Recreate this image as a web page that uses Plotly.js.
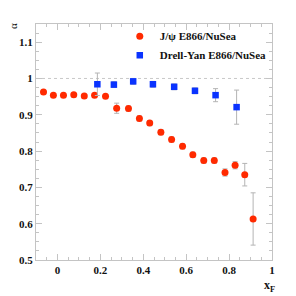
<!DOCTYPE html>
<html><head><meta charset="utf-8">
<script src="https://cdn.plot.ly/plotly-3.0.1.min.js"></script>
<style>html,body{margin:0;padding:0;background:#fff}#c{width:296px;height:296px}</style>
</head><body><div id="c"></div>
<script>
// J/psi E866/NuSea
const jpsiX = [-0.065,-0.019,0.028,0.076,0.125,0.173,0.224,0.276,0.331,0.382,0.430,0.482,0.532,0.583,0.631,0.682,0.731,0.781,0.828,0.873,0.912];
const jpsiA = [0.963,0.954,0.954,0.955,0.952,0.954,0.951,0.918,0.917,0.890,0.877,0.852,0.832,0.813,0.790,0.774,0.774,0.741,0.761,0.735,0.613];
const jpsiErr = [0.005,0.005,0.005,0.005,0.005,0.005,0.005,0.014,0.007,0.007,0.007,0.007,0.007,0.007,0.007,0.007,0.007,0.010,0.010,0.031,0.072];
// Drell-Yan E866/NuSea
const dyX = [0.186,0.263,0.353,0.445,0.544,0.641,0.737,0.835];
const dyA = [0.984,0.983,0.992,0.984,0.977,0.966,0.954,0.921];
const dyErr = [0.031,0.008,0.008,0.008,0.008,0.008,0.018,0.047];
const seriesNames = ["J/\u03c8 E866/NuSea","Drell-Yan E866/NuSea"];
const xTicks = [0,0.2,0.4,0.6,0.8,1];
const yTicks = [0.5,0.6,0.7,0.8,0.9,1,1.1];
const refLine = 1;

const F = 'Liberation Serif, Times New Roman, serif';
const errStyle = {type:'data', visible:true, color:'#b4b4b4', thickness:1, width:2.5};
const traces = [
  {x:jpsiX, y:jpsiA, name:seriesNames[0], mode:'markers', type:'scatter',
   marker:{symbol:'circle', size:7, color:'#ff2a00'},
   error_y:Object.assign({array:jpsiErr}, errStyle)},
  {x:dyX, y:dyA, name:seriesNames[1], mode:'markers', type:'scatter',
   marker:{symbol:'square', size:6.5, color:'#0a33ff'},
   error_y:Object.assign({array:dyErr}, errStyle)}
];
const axisCommon = {
  showgrid:false, zeroline:false, showline:true, linecolor:'#c4c4c4', linewidth:1,
  mirror:'allticks', ticks:'inside', ticklen:6, tickcolor:'#c4c4c4', tickwidth:1,
  minor:{ticks:'inside', ticklen:3, tickcolor:'#c4c4c4', tickwidth:1}
};
const tf = {family:F, size:11, color:'#111', weight:'bold'};
const layout = {
  width:296, height:296, paper_bgcolor:'#fff', plot_bgcolor:'#fff',
  margin:{l:36, r:24, t:24, b:36},
  showlegend:true,
  legend:{x:0.355, y:1.01, xanchor:'left', yanchor:'top', bgcolor:'rgba(0,0,0,0)',
          font:{family:F, size:11, color:'#111', weight:'bold'}, itemwidth:30, tracegroupgap:0},
  xaxis:Object.assign({}, axisCommon, {range:[-0.1,1.0], tickvals:xTicks, ticktext:xTicks.map(String),
          minor:Object.assign({}, axisCommon.minor, {dtick:0.05, tick0:0}), tickfont:tf}),
  yaxis:Object.assign({}, axisCommon, {range:[0.5,1.15], tickvals:yTicks, ticktext:yTicks.map(String),
          minor:Object.assign({}, axisCommon.minor, {dtick:0.025, tick0:0.5}), tickfont:tf}),
  shapes:[{type:'line', xref:'paper', x0:0, x1:1, yref:'y', y0:refLine, y1:refLine,
           line:{color:'#c8c8c8', width:1, dash:'dot'}, layer:'below'}],
  annotations:[
    {text:'\u03b1', xref:'paper', yref:'paper', x:-0.095, y:0.99, xanchor:'center', yanchor:'middle',
     showarrow:false, textangle:-90, font:{family:F, size:11, color:'#111'}},
    {text:'<b>x<sub>F</sub></b>', xref:'paper', yref:'paper', x:0.99, y:-0.11, xanchor:'center', yanchor:'middle',
     showarrow:false, font:{family:F, size:12, color:'#111'}}
  ]
};
Plotly.newPlot('c', traces, layout, {staticPlot:true, displayModeBar:false});
</script></body></html>
